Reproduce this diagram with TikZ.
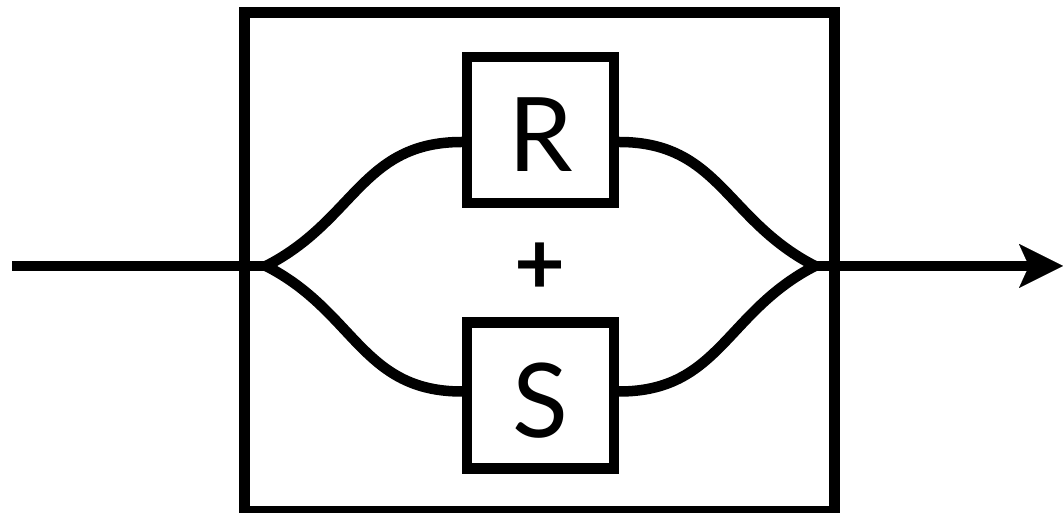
\documentclass[tikz,border=0pt]{standalone}
\usepackage{fontspec}
\setmainfont{Lato}
\usetikzlibrary{arrows.meta}
\begin{document}
\begin{tikzpicture}[x=1pt,y=1pt,
  wire/.style={line width=10.5pt},
  curvewire/.style={line width=10.5pt,line cap=round},
  blockbox/.style={draw,line width=10.5pt,minimum width=147pt,minimum height=146pt,inner sep=0pt,text height=84pt,text depth=0pt,font=\fontsize{103}{103}\selectfont},
  plussign/.style={inner sep=0pt,font=\bfseries\fontsize{88}{88}\selectfont}
  ]
\useasboundingbox (0,0) rectangle (1063,513);
\node[draw,line width=11pt,minimum width=589.5pt,minimum height=499pt,inner sep=0pt] (outer) at (539.25,251) {};
\node[blockbox] (R) at (540.5,383) {R};
\node[blockbox] (S) at (540.5,117.5) {S};
\node[plussign] (plus) at (540.5,244) {+};
\coordinate (in) at (12,247);
\coordinate (J1) at (266,247);
\coordinate (J2) at (815,247);
\coordinate (out) at (1063,247);
\draw[wire] (in) -- (J1);
\draw[curvewire] (J1) to[out=27,in=180,distance=100pt] ([yshift=-12pt]R.west);
\draw[curvewire] (J1) to[out=-27,in=180,distance=100pt] ([yshift=4pt]S.west);
\draw[curvewire] ([yshift=-12pt]R.east) to[out=0,in=153,distance=100pt] (J2);
\draw[curvewire] ([yshift=4pt]S.east) to[out=0,in=207,distance=100pt] (J2);
\draw[wire,-{Stealth[length=44pt,width=44pt,inset=10pt,line width=0.01pt]}] (J2) -- (out);
\end{tikzpicture}
\end{document}
